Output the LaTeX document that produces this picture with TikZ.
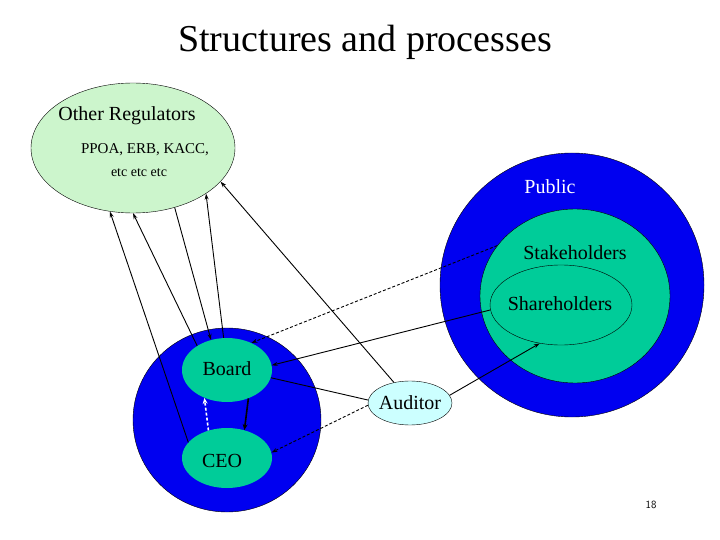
\documentclass[tikz,border=0pt]{standalone}
\usepackage{fontspec}
\setmainfont{Liberation Serif}
\usepackage{tikz}
\usetikzlibrary{arrows.meta, shapes.geometric}

\definecolor{pubblue}{RGB}{0,0,240}
\definecolor{stkgreen}{RGB}{0,204,153}
\definecolor{reggreen}{RGB}{204,245,204}
\definecolor{audcyan}{RGB}{204,255,255}

\tikzset{
    blob/.style={ellipse, draw, inner sep=0pt},
    lbl/.style={font=\fontsize{20}{22}\selectfont},
    link/.style={-{Stealth[length=6pt,width=4pt]}, line width=0.9pt},
    dlink/.style={link, dash pattern=on 3pt off 2pt}
}

\begin{document}
\begin{tikzpicture}[x=1pt, y=-1pt]
    \useasboundingbox (0,0) rectangle (720,540);
    \node at (365,42) {\fontsize{38}{40}\selectfont Structures and processes};
    % regulators
    \node[blob, fill=reggreen, minimum width=204pt, minimum height=130pt] (reg) at (133,148) {};
    \node[lbl] at (127,116) {Other Regulators};
    \node at (145,150) {\fontsize{15}{17}\selectfont PPOA, ERB, KACC,};
    \node at (139,173) {\fontsize{14}{16}\selectfont etc etc etc};
    % public side
    \node[circle, draw, fill=pubblue, minimum size=264pt, inner sep=0pt] (pub) at (572,285) {};
    \node[blob, fill=stkgreen, minimum width=190pt, minimum height=174pt] (stk) at (575,296) {};
    \node[blob, minimum width=142pt, minimum height=80pt] (shr) at (561,305) {};
    \node[lbl, text=white] at (550,187) {Public};
    \node[lbl] at (575,253) {Stakeholders};
    \node[lbl] at (560,304) {Shareholders};
    % company
    \node[blob, fill=pubblue, minimum width=188pt, minimum height=184pt] (firm) at (227,420) {};
    \node[blob, draw=none, fill=stkgreen, minimum width=90pt, minimum height=64pt] (board) at (227,370) {};
    \node[blob, draw=none, fill=stkgreen, minimum width=90pt, minimum height=60pt] (ceo) at (227,458) {};
    \node[lbl] at (227,369) {Board};
    \node[lbl] at (222,461) {CEO};
    \node[blob, fill=audcyan, minimum width=84pt, minimum height=44pt] (aud) at (410,403) {};
    \node[lbl] at (410,403) {Auditor};
    \node at (651,505) {\fontsize{11}{13}\selectfont\sffamily 18};

    \draw[link] (ceo.158) -- (reg.-110);
    \draw[link] (board.141) -- (reg.-90);
    \draw[link] (reg.-55) -- (board.118);
    \draw[link] (board.96) -- (reg.-32);
    \draw[link] (aud.128) -- (reg.-21);
    \draw[dlink] (stk.147) -- (board.48);
    \draw[link] (shr.184) -- (board.6);
    \draw[line width=0.9pt] (board.-10) -- (aud.176);
    \draw[-{Stealth[length=6pt,width=5pt]}, line width=1.6pt] (board.-53) -- (ceo.58);
    \draw[-{Stealth[length=6pt,width=5pt]}, line width=1.6pt, white, dash pattern=on 3pt off 2pt] (ceo.124) -- (board.-129);
    \draw[dlink] (aud.183) -- (ceo.7);
    \draw[link] (aud.11) -- (shr.241);
\end{tikzpicture}
\end{document}
